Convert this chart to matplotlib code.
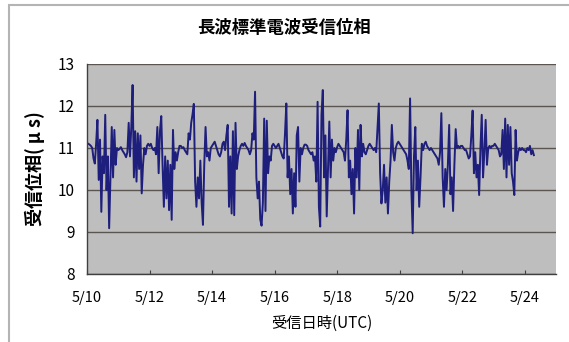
import matplotlib
matplotlib.use("Agg")
import matplotlib.pyplot as plt
import pandas as pd
from matplotlib.patches import Rectangle

plt.rcParams['font.family'] = ['Noto Sans CJK JP', 'DejaVu Sans']

# 受信位相 (μs), 1時間ごと, 5/10 00:00 UTC から
phase_us = [
    # 5/10
    11.12, 11.10, 11.08, 11.05, 11.00, 10.75, 10.63, 11.10, 11.67, 10.24, 11.20, 9.48,
    10.80, 10.40, 11.79, 10.00, 10.80, 9.09, 10.30, 11.50, 10.30, 11.43, 10.60, 11.00,
    # 5/11
    10.95, 10.98, 11.02, 10.95, 10.90, 10.85, 10.78, 10.90, 11.60, 10.80, 11.50, 12.50,
    10.30, 11.40, 10.20, 11.35, 10.50, 11.30, 9.92, 10.60, 11.00, 10.85, 11.05, 11.10,
    # 5/12
    11.05, 11.10, 11.00, 10.95, 11.00, 10.85, 11.50, 10.40, 11.40, 11.76, 10.60, 9.60,
    10.80, 9.80, 10.70, 9.52, 10.60, 9.29, 11.43, 10.50, 10.90, 10.70, 10.90, 11.05,
    # 5/13
    11.05, 11.00, 11.02, 10.95, 10.90, 10.85, 11.35, 11.20, 11.60, 11.80, 12.05, 10.20,
    9.60, 10.30, 9.80, 10.70, 9.70, 9.17, 10.60, 11.50, 10.80, 10.90, 10.70, 11.00,
    # 5/14
    11.05, 11.10, 11.15, 11.05, 10.95, 10.85, 10.80, 10.90, 11.10, 11.15, 10.95, 11.30,
    11.55, 9.60, 10.80, 9.44, 11.40, 9.40, 11.60, 10.50, 10.80, 10.95, 11.05, 11.10,
    # 5/15
    11.05, 11.12, 11.05, 11.00, 10.95, 10.85, 10.95, 11.35, 11.20, 12.34, 10.30, 9.80,
    10.20, 9.30, 9.15, 9.70, 11.70, 9.50, 11.65, 10.40, 10.80, 10.70, 11.05, 11.10,
    # 5/16
    11.05, 11.00, 11.05, 11.10, 11.00, 10.90, 10.80, 10.75, 11.35, 12.06, 10.30, 10.80,
    9.90, 10.50, 9.44, 10.40, 9.60, 11.30, 11.50, 10.20, 11.00, 10.85, 11.00, 11.08,
    # 5/17
    11.08, 11.05, 10.95, 10.90, 10.85, 10.90, 10.70, 10.80, 10.20, 12.10, 9.60, 9.13,
    11.80, 12.38, 10.30, 11.30, 9.37, 10.50, 11.63, 10.30, 11.20, 10.70, 11.00, 10.90,
    # 5/18
    11.02, 11.10, 11.05, 11.00, 10.95, 10.90, 10.70, 11.20, 11.90, 10.30, 10.70, 9.90,
    10.50, 9.44, 11.00, 10.30, 11.43, 10.00, 11.55, 10.80, 11.10, 10.90, 10.85, 10.95,
    # 5/19
    11.05, 11.10, 11.05, 11.00, 10.95, 11.00, 10.90, 11.50, 12.06, 10.40, 9.68, 10.00,
    10.60, 9.70, 10.30, 9.44, 10.20, 10.70, 11.55, 10.90, 10.70, 11.00, 11.10, 11.15,
    # 5/20
    11.10, 11.05, 11.00, 10.95, 10.90, 10.85, 10.70, 10.50, 12.18, 10.00, 8.97, 10.80,
    11.50, 10.00, 10.70, 9.60, 10.30, 11.10, 10.95, 11.10, 11.15, 11.05, 11.00, 10.95,
    # 5/21
    11.00, 10.95, 10.90, 10.85, 10.80, 10.75, 10.60, 10.90, 11.83, 10.30, 9.60, 10.50,
    10.00, 10.60, 11.55, 9.90, 10.30, 9.50, 10.60, 11.45, 11.00, 11.05, 11.00, 11.05,
    # 5/22
    11.05, 11.00, 10.95, 10.95, 10.85, 10.75, 10.80, 11.30, 11.89, 10.40, 10.90, 10.30,
    10.60, 9.88, 11.00, 11.79, 10.30, 10.90, 11.67, 10.60, 11.00, 11.05, 11.00, 11.05,
    # 5/23
    11.05, 11.10, 11.05, 11.00, 10.95, 10.80, 10.85, 11.43, 10.50, 11.70, 10.30, 11.55,
    10.60, 11.50, 10.40, 10.20, 9.88, 11.43, 10.70, 10.90, 11.00, 10.95, 11.00, 10.95,
    # 5/24
    10.95, 10.90, 11.00, 10.95, 11.05, 10.85, 10.95, 10.83,
]
start_time = "2000-05-10 00:00"
tick_days = ["2000-05-10", "2000-05-12", "2000-05-14", "2000-05-16",
             "2000-05-18", "2000-05-20", "2000-05-22", "2000-05-24"]
y_ticks = [8, 9, 10, 11, 12, 13]

times = pd.date_range(start_time, periods=len(phase_us), freq="h")

fig = plt.figure(figsize=(5.69, 3.42), dpi=100)
# 外枠
fig.patches.append(Rectangle((9 / 569, -0.1), 1.2, 1.1 - 5 / 342,
                             transform=fig.transFigure, fill=False,
                             edgecolor="#b4b4b4", linewidth=1.5))

ax = fig.add_axes([87 / 569, 68 / 342, 469 / 569, 210 / 342])
ax.set_facecolor("#bebebe")
ax.plot(times, phase_us, color="#1e1e7c", linewidth=1.4)

ax.set_ylim(8, 13)
ax.set_yticks(y_ticks)
ax.set_xlim(pd.Timestamp("2000-05-10"), pd.Timestamp("2000-05-25"))
ticks = pd.to_datetime(tick_days)
ax.set_xticks(ticks)
ax.set_xticklabels([f"{t.month}/{t.day}" for t in ticks])
ax.grid(axis="y", color="#5a5550", linewidth=1.0)
ax.set_axisbelow(True)

for s in ["top", "right"]:
    ax.spines[s].set_visible(False)
for s in ["left", "bottom"]:
    ax.spines[s].set_color("#404040")
    ax.spines[s].set_linewidth(1.0)
ax.tick_params(axis="x", direction="in", length=3, labelsize=10.5, pad=12, colors="#404040",
               labelcolor="black")
ax.tick_params(axis="y", direction="in", length=0, labelsize=11, pad=9)

fig.text(0.5, 1 - 28 / 342, "長波標準電波受信位相", ha="center", va="center",
         fontsize=12.5, fontweight="bold")
ax.set_xlabel("受信日時(UTC)", fontsize=11, labelpad=7)
ax.set_ylabel("受信位相( μ s)", fontsize=13, fontweight="bold", labelpad=9)

fig.savefig("out.png", dpi=100)
